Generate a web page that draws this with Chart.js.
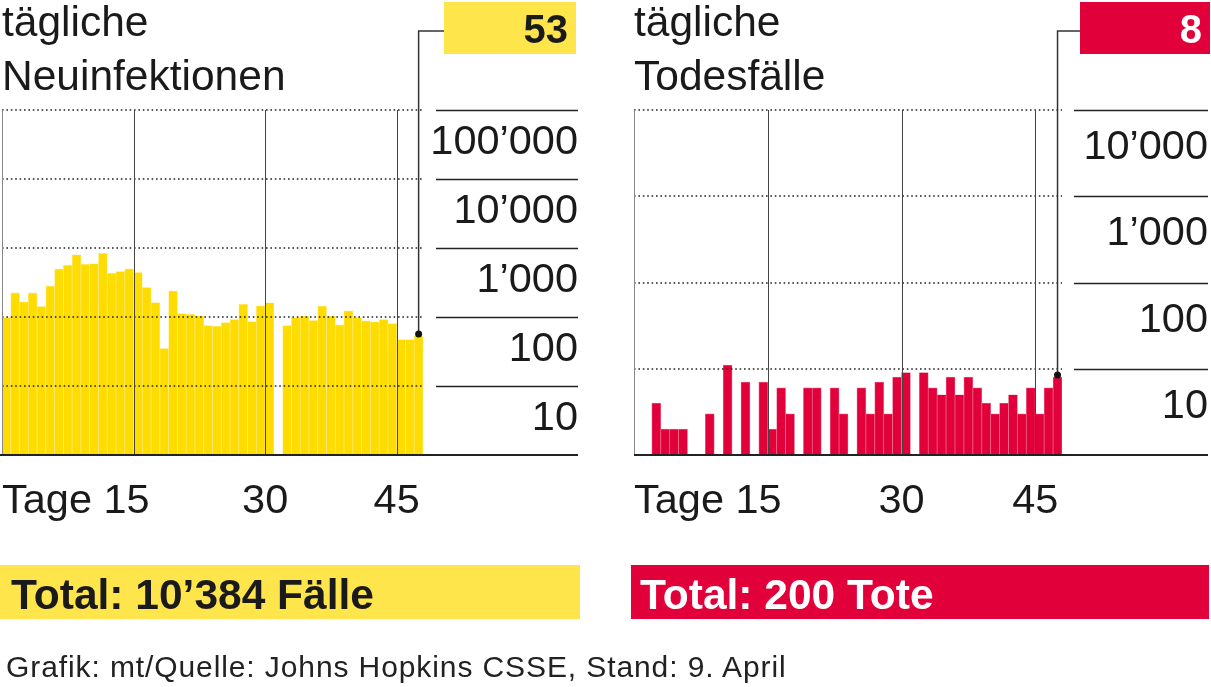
<!DOCTYPE html>
<html>
<head>
<meta charset="utf-8">
<script src="https://cdn.jsdelivr.net/npm/chart.js@4.4.1/dist/chart.umd.min.js"></script>
<style>
  body { margin: 0; background: #fff; width: 1211px; height: 687px; overflow: hidden; position: relative; font-family: "Liberation Sans", Arial, sans-serif; }
  .panel { position: absolute; top: 0; height: 687px; }
  #left { left: 0; width: 630px; }
  #right { left: 630px; width: 581px; }
  #footer { position: absolute; left: 6px; top: 650px; font-size: 30px; letter-spacing: 0.9px; color: #222; white-space: nowrap; }
</style>
</head>
<body>
<div class="panel" id="left"><canvas id="casesChart"></canvas></div>
<div class="panel" id="right"><canvas id="deathsChart"></canvas></div>
<div id="footer">Grafik: mt/Quelle: Johns Hopkins CSSE, Stand: 9. April</div>
<script>
// data (log scale, gaps = no value)
const days = [1, 2, 3, 4, 5, 6, 7, 8, 9, 10, 11, 12, 13, 14, 15, 16, 17, 18, 19, 20, 21, 22, 23, 24,
              25, 26, 27, 28, 29, 30, 31, 32, 33, 34, 35, 36, 37, 38, 39, 40, 41, 42, 43, 44, 45, 46, 47, 48];
const newCases = [98, 224, 166, 224, 142, 280, 494, 559, 799, 578, 592, 836, 428, 457, 500, 442, 268, 162, 35, 240,
                  112, 109, 104, 75, 73, 83, 92, 152, 86, 145, 161, null, 75, 98, 102, 89, 144, 103, 77, 123,
                  98, 88, 85, 92, 80, 47, 47, 53];
const newDeaths = [null, null, 4, 2, 2, 2, null, null, 3, null, 11, null, 7, null, 7, 2, 6, 3, null, 6,
                   6, null, 6, 3, null, 6, 3, 7, 3, 8, 9, null, 9, 6, 5, 8, 5, 8, 6, 4,
                   3, 4, 5, 3, 6, 3, 6, 8];
const dayTicks = [15, 30, 45];
const caseTicks = [10, 100, 1000, 10000, 100000];
const caseTickLabels = ["10", "100", "1’000", "10’000", "100’000"];
const deathTicks = [10, 100, 1000, 10000];
const deathTickLabels = ["10", "100", "1’000", "10’000"];
const lastCases = "53";
const lastDeaths = "8";
const totalCases = "Total: 10’384 Fälle";
const totalDeaths = "Total: 200 Tote";

const FONT = '"Liberation Sans", Arial, sans-serif';

function panelPlugin(p) {
    return {
        id: 'panel',
        afterDatasetsDraw(chart) {
            const ctx = chart.ctx;
            const sx = chart.scales.x, sy = chart.scales.y, a = chart.chartArea;
            const line = (x1, y1, x2, y2) => { ctx.beginPath(); ctx.moveTo(x1, y1); ctx.lineTo(x2, y2); ctx.stroke(); };
            ctx.save();

            // dotted grid inside plot
            ctx.strokeStyle = '#222';
            ctx.lineWidth = 1.6;
            ctx.setLineDash([1.6, 2.8]);
            p.ticks.forEach(v => {
                const py = Math.round(sy.getPixelForValue(v));
                line(a.left, py, a.right, py);
            });
            ctx.setLineDash([]);

            // vertical day lines
            ctx.strokeStyle = '#444';
            ctx.lineWidth = 1;
            const dayX = d => (sx.getPixelForValue(d - 1) + sx.getPixelForValue(d)) / 2;
            dayTicks.forEach(d => {
                const px = Math.round(dayX(d)) + 0.5;
                line(px, a.top, px, a.bottom);
            });
            ctx.strokeStyle = '#888';
            line(a.left + 0.5, a.top, a.left + 0.5, a.bottom);

            // right side rules + labels
            ctx.strokeStyle = '#222';
            ctx.lineWidth = 1.5;
            ctx.fillStyle = '#1a1a1a';
            ctx.font = '41.5px ' + FONT;
            ctx.textAlign = 'right';
            ctx.textBaseline = 'alphabetic';
            p.ticks.forEach((v, i) => {
                const py = Math.round(sy.getPixelForValue(v)) + 0.5;
                line(p.ruleFrom, py, p.labelRight, py);
                ctx.fillText(p.tickLabels[i], p.labelRight, py + p.labelDy);
            });

            // baseline
            ctx.lineWidth = 2;
            line(p.axisFrom, a.bottom, p.labelRight, a.bottom);

            // x labels
            ctx.font = '41.5px ' + FONT;
            ctx.textAlign = 'left';
            ctx.fillText('Tage ' + dayTicks[0], a.left, 513);
            ctx.textAlign = 'center';
            dayTicks.slice(1).forEach(d => ctx.fillText(String(d), dayX(d), 513));

            // headline
            ctx.font = '42.5px ' + FONT;
            ctx.textAlign = 'left';
            ctx.fillText(p.title[0], p.titleX, 36);
            ctx.fillText(p.title[1], p.titleX, 90);

            // callout
            const data = chart.data.datasets[0].data;
            const li = data.length - 1;
            const dx = sx.getPixelForValue(li);
            const dy = sy.getPixelForValue(data[li]) - 2;
            ctx.strokeStyle = '#333';
            ctx.lineWidth = 1.5;
            ctx.beginPath();
            ctx.moveTo(dx, dy);
            ctx.lineTo(dx, 31);
            ctx.lineTo(p.box[0], 31);
            ctx.stroke();
            ctx.fillStyle = '#111';
            ctx.beginPath();
            ctx.arc(dx, dy, 3.5, 0, Math.PI * 2);
            ctx.fill();

            ctx.fillStyle = p.boxColor;
            ctx.fillRect(p.box[0], 2, p.box[1] - p.box[0], 52);
            ctx.fillStyle = p.boxText;
            ctx.font = 'bold 40px ' + FONT;
            ctx.textAlign = 'right';
            ctx.fillText(p.last, p.box[1] - 8, 43);

            // total
            ctx.fillStyle = p.boxColor;
            ctx.fillRect(p.total[0], 565, p.total[1] - p.total[0], 54);
            ctx.fillStyle = p.boxText;
            ctx.font = 'bold 42.5px ' + FONT;
            ctx.textAlign = 'left';
            ctx.fillText(p.totalText, p.total[0] + p.totalPad, 609);

            ctx.restore();
        }
    };
}

function makeChart(id, values, color, edge, yMax, pad, p) {
    const ctx = document.getElementById(id).getContext('2d');
    return new Chart(ctx, {
        type: 'bar',
        data: {
            labels: days,
            datasets: [{
                data: values,
                backgroundColor: color,
                borderColor: edge,
                borderWidth: 0.7,
                borderSkipped: 'bottom',
                barPercentage: 1,
                categoryPercentage: 1
            }]
        },
        options: {
            responsive: true,
            maintainAspectRatio: false,
            animation: false,
            layout: { padding: pad },
            plugins: { legend: { display: false }, tooltip: { enabled: false } },
            scales: {
                x: { type: 'category', display: false, offset: true },
                y: { type: 'logarithmic', display: false, min: 1, max: yMax }
            }
        },
        plugins: [panelPlugin(p)]
    });
}

makeChart('casesChart', newCases, '#FFDC00', '#FFEB7A', 100000,
    { left: 2, right: 207, top: 110, bottom: 232 },
    {
        ticks: caseTicks, tickLabels: caseTickLabels, labelDy: 43,
        ruleFrom: 436, labelRight: 578, axisFrom: 0,
        title: ['tägliche', 'Neuinfektionen'], titleX: 2,
        box: [444, 576], boxColor: '#FFE54C', boxText: '#1a1a1a', last: lastCases,
        total: [0, 580], totalPad: 11, totalText: totalCases
    });

makeChart('deathsChart', newDeaths, '#E2003B', '#EE6A8A', 10000,
    { left: 4, right: 149, top: 110, bottom: 232 },
    {
        ticks: deathTicks, tickLabels: deathTickLabels, labelDy: 48,
        ruleFrom: 444, labelRight: 578, axisFrom: 4,
        title: ['tägliche', 'Todesfälle'], titleX: 4,
        box: [450, 580], boxColor: '#E2003A', boxText: '#fff', last: lastDeaths,
        total: [1, 579], totalPad: 9, totalText: totalDeaths
    });
</script>
</body>
</html>
